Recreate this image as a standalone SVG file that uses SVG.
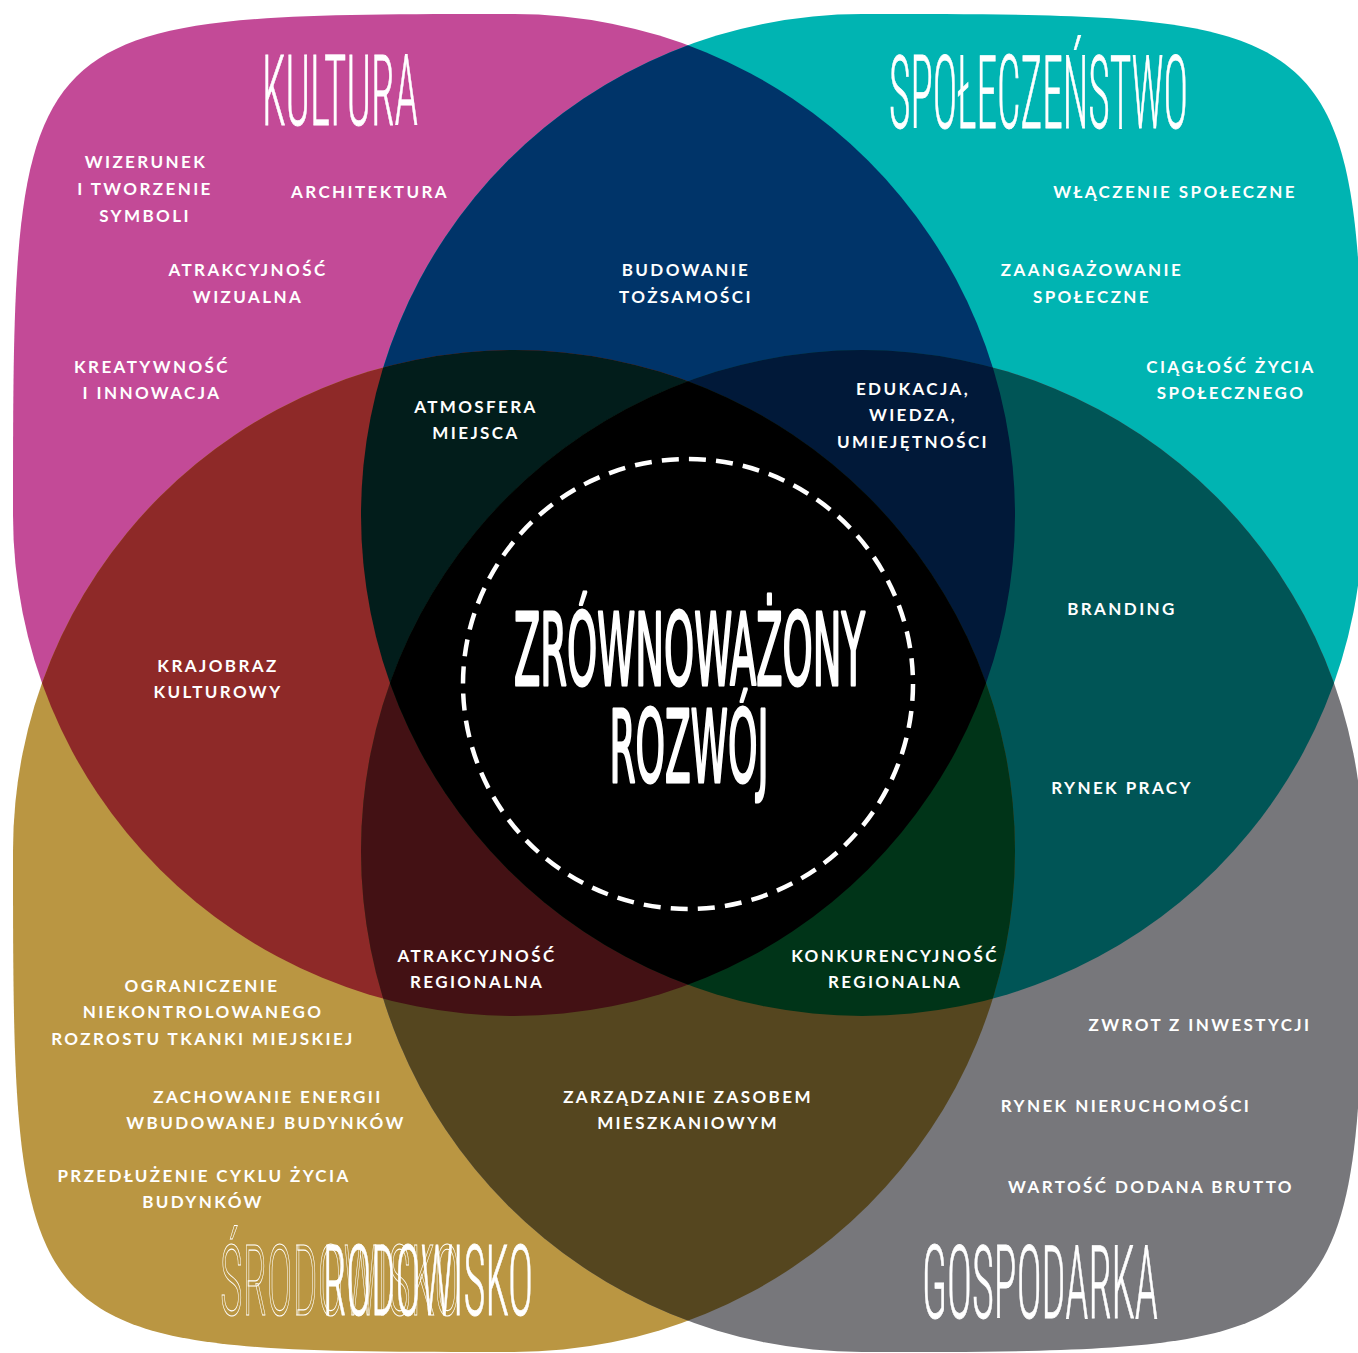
<svg xmlns="http://www.w3.org/2000/svg" width="1358" height="1353" viewBox="0 0 1358 1353">
<style>
.lbl{font-family:Lato,"Open Sans","Liberation Sans",sans-serif;font-weight:700;font-size:17px;letter-spacing:2.4px;fill:#fff;text-anchor:middle}
.ttl{font-family:"Roboto Condensed",Lato,"Liberation Sans Narrow",sans-serif;font-weight:300;font-size:98px;fill:#fff;stroke:#fff;stroke-width:0.8}
.big{font-family:"Liberation Sans Narrow","DejaVu Sans Condensed","Liberation Sans",sans-serif;font-size:100px;fill:#fff;stroke:#fff;stroke-width:3;stroke-linejoin:round}
</style>
<defs>
<clipPath id="cM"><circle cx="514" cy="515" r="501"/></clipPath>
<clipPath id="cT"><circle cx="862" cy="515" r="501"/></clipPath>
<clipPath id="cG"><circle cx="514" cy="851" r="501"/></clipPath>
<clipPath id="cY"><circle cx="862" cy="851" r="501"/></clipPath>
</defs>
<rect width="1358" height="1353" fill="#fff"/>
<g id="shapes">
<path id="kultura" d="M514,14 C14,14 13,15 13,515 A501,501 0 1 0 514,14 Z" fill="#C34A97"/>
<path id="spoleczenstwo" d="M862,14 C1362,14 1363,15 1363,515 A501,501 0 1 1 862,14 Z" fill="#00B4B2"/>
<path id="srodowisko" d="M514,1352 C14,1352 13,1351 13,851 A501,501 0 1 1 514,1352 Z" fill="#BA9642"/>
<path id="gospodarka" d="M862,1352 C1362,1352 1363,1351 1363,851 A501,501 0 1 0 862,1352 Z" fill="#77777B"/>
</g>
<g id="overlaps">
<g clip-path="url(#cM)"><circle cx="862" cy="515" r="501" fill="#003469"/></g>
<g clip-path="url(#cM)"><circle cx="514" cy="851" r="501" fill="#8E2928"/></g>
<g clip-path="url(#cT)"><circle cx="862" cy="851" r="501" fill="#005556"/></g>
<g clip-path="url(#cG)"><circle cx="862" cy="851" r="501" fill="#55461F"/></g>
<g clip-path="url(#cM)"><g clip-path="url(#cT)"><circle cx="514" cy="851" r="501" fill="#021D1B"/></g></g>
<g clip-path="url(#cM)"><g clip-path="url(#cT)"><circle cx="862" cy="851" r="501" fill="#011939"/></g></g>
<g clip-path="url(#cM)"><g clip-path="url(#cG)"><circle cx="862" cy="851" r="501" fill="#431114"/></g></g>
<g clip-path="url(#cT)"><g clip-path="url(#cG)"><circle cx="862" cy="851" r="501" fill="#003418"/></g></g>
<g clip-path="url(#cM)"><g clip-path="url(#cT)"><g clip-path="url(#cG)"><circle cx="862" cy="851" r="501" fill="#000"/></g></g></g>
</g>
<g id="connectors"/>
<g id="center">
<circle cx="688" cy="684" r="225" fill="none" stroke="#fff" stroke-width="4.5" stroke-dasharray="17 10.2"/>
<text class="big" x="514" y="685" textLength="351" lengthAdjust="spacingAndGlyphs">ZRÓWNOWAŻONY</text>
<text class="big" x="609.5" y="782" textLength="159" lengthAdjust="spacingAndGlyphs">ROZWÓJ</text>
</g>
<g id="titles">
<text class="ttl" x="262" y="125" textLength="156" lengthAdjust="spacingAndGlyphs">KULTURA</text>
<text class="ttl" x="889" y="128" textLength="299" lengthAdjust="spacingAndGlyphs" style="font-size:102px">SPOŁECZEŃSTWO</text>
<text class="ttl" x="922" y="1318" textLength="236" lengthAdjust="spacingAndGlyphs" style="font-size:102px">GOSPODARKA</text>
<text class="ttl" x="220" y="1315" textLength="240" lengthAdjust="spacingAndGlyphs" style="fill:none;stroke:#fff;stroke-width:1.1">ŚRODOWISKO</text>
<text class="ttl" x="323" y="1315" textLength="210" lengthAdjust="spacingAndGlyphs">RODOWISKO</text>
</g>
<g id="labels-kultura">
<text class="lbl" x="146" y="168">WIZERUNEK</text>
<text class="lbl" x="145" y="195">I TWORZENIE</text>
<text class="lbl" x="145" y="222">SYMBOLI</text>
<text class="lbl" x="370" y="198">ARCHITEKTURA</text>
<text class="lbl" x="248" y="276">ATRAKCYJNOŚĆ</text>
<text class="lbl" x="248" y="303">WIZUALNA</text>
<text class="lbl" x="152" y="373">KREATYWNOŚĆ</text>
<text class="lbl" x="152" y="399">I INNOWACJA</text>
</g>
<g id="labels-kultura-spoleczenstwo">
<text class="lbl" x="686" y="276">BUDOWANIE</text>
<text class="lbl" x="686" y="303">TOŻSAMOŚCI</text>
</g>
<g id="labels-spoleczenstwo">
<text class="lbl" x="1175" y="198">WŁĄCZENIE SPOŁECZNE</text>
<text class="lbl" x="1092" y="276">ZAANGAŻOWANIE</text>
<text class="lbl" x="1092" y="303">SPOŁECZNE</text>
<text class="lbl" x="1231" y="373">CIĄGŁOŚĆ ŻYCIA</text>
<text class="lbl" x="1231" y="399">SPOŁECZNEGO</text>
</g>
<g id="labels-inner">
<text class="lbl" x="476" y="413">ATMOSFERA</text>
<text class="lbl" x="476" y="439">MIEJSCA</text>
<text class="lbl" x="913" y="395">EDUKACJA,</text>
<text class="lbl" x="913" y="421">WIEDZA,</text>
<text class="lbl" x="913" y="448">UMIEJĘTNOŚCI</text>
<text class="lbl" x="218" y="672">KRAJOBRAZ</text>
<text class="lbl" x="218" y="698">KULTUROWY</text>
<text class="lbl" x="1122" y="615">BRANDING</text>
<text class="lbl" x="1122" y="794">RYNEK PRACY</text>
<text class="lbl" x="477" y="962">ATRAKCYJNOŚĆ</text>
<text class="lbl" x="477" y="988">REGIONALNA</text>
<text class="lbl" x="895" y="962">KONKURENCYJNOŚĆ</text>
<text class="lbl" x="895" y="988">REGIONALNA</text>
<text class="lbl" x="688" y="1103">ZARZĄDZANIE ZASOBEM</text>
<text class="lbl" x="688" y="1129">MIESZKANIOWYM</text>
</g>
<g id="labels-srodowisko">
<text class="lbl" x="202" y="992">OGRANICZENIE</text>
<text class="lbl" x="203" y="1018">NIEKONTROLOWANEGO</text>
<text class="lbl" x="203" y="1045">ROZROSTU TKANKI MIEJSKIEJ</text>
<text class="lbl" x="268" y="1103">ZACHOWANIE ENERGII</text>
<text class="lbl" x="266" y="1129">WBUDOWANEJ BUDYNKÓW</text>
<text class="lbl" x="204" y="1182">PRZEDŁUŻENIE CYKLU ŻYCIA</text>
<text class="lbl" x="203" y="1208">BUDYNKÓW</text>
</g>
<g id="labels-gospodarka">
<text class="lbl" x="1200" y="1031">ZWROT Z INWESTYCJI</text>
<text class="lbl" x="1126" y="1112">RYNEK NIERUCHOMOŚCI</text>
<text class="lbl" x="1151" y="1193">WARTOŚĆ DODANA BRUTTO</text>
</g>
</svg>
